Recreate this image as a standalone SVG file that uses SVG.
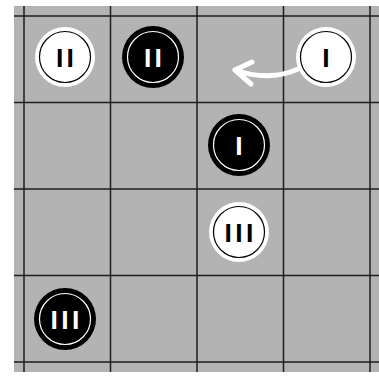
<svg xmlns="http://www.w3.org/2000/svg" width="379" height="376" viewBox="0 0 379 376">
<style>
.grid line{stroke:#1e1e1e;stroke-width:1.5}
.w .o{fill:#fff}
.w .i{fill:none;stroke:#000;stroke-width:1.2}
.w text{fill:#000}
.b .o{fill:#000}
.b .i{fill:none;stroke:#fff;stroke-width:1.2}
.b text{fill:#fff}
text{font-family:"Liberation Sans",Arial,sans-serif;font-weight:bold;font-size:26.5px;text-anchor:middle;letter-spacing:3.3px}
.arrow{fill:none;stroke:#fff;stroke-width:5;stroke-linecap:round;stroke-linejoin:round}
</style>
<rect x="0" y="0" width="379" height="376" fill="#fff"/>
<rect x="14" y="6" width="365" height="366" fill="#b3b3b3"/>
<g class="grid">
<line x1="24" y1="6" x2="24" y2="372"/>
<line x1="110.5" y1="6" x2="110.5" y2="372"/>
<line x1="197" y1="6" x2="197" y2="372"/>
<line x1="283.5" y1="6" x2="283.5" y2="372"/>
<line x1="370" y1="6" x2="370" y2="372"/>
<line x1="14" y1="16" x2="379" y2="16"/>
<line x1="14" y1="102.5" x2="379" y2="102.5"/>
<line x1="14" y1="189" x2="379" y2="189"/>
<line x1="14" y1="275.5" x2="379" y2="275.5"/>
<line x1="14" y1="362" x2="379" y2="362"/>
</g>
<g id="connectors">
<path class="arrow" d="M298,69 Q270,82 235,70 M252,62 L235,70 L251,84"/>
</g>
<g id="white-II" class="w">
<circle class="o" cx="65" cy="57" r="30"/>
<circle class="i" cx="65" cy="57" r="25.5"/>
<text x="66.6" y="66.5">II</text>
</g>
<g id="black-II" class="b">
<circle class="o" cx="153" cy="57" r="31"/>
<circle class="i" cx="153" cy="57" r="25.5"/>
<text x="154.6" y="66.5">II</text>
</g>
<g id="white-I" class="w">
<circle class="o" cx="326" cy="57" r="30"/>
<circle class="i" cx="326" cy="57" r="25.5"/>
<text x="327.6" y="66.5">I</text>
</g>
<g id="black-I" class="b">
<circle class="o" cx="239" cy="145" r="31"/>
<circle class="i" cx="239" cy="145" r="25.5"/>
<text x="240.6" y="154.5">I</text>
</g>
<g id="white-III" class="w">
<circle class="o" cx="239" cy="232" r="30"/>
<circle class="i" cx="239" cy="232" r="25.5"/>
<text x="240.6" y="241.5">III</text>
</g>
<g id="black-III" class="b">
<circle class="o" cx="65" cy="319" r="31"/>
<circle class="i" cx="65" cy="319" r="25.5"/>
<text x="66.6" y="328.5">III</text>
</g>
</svg>
